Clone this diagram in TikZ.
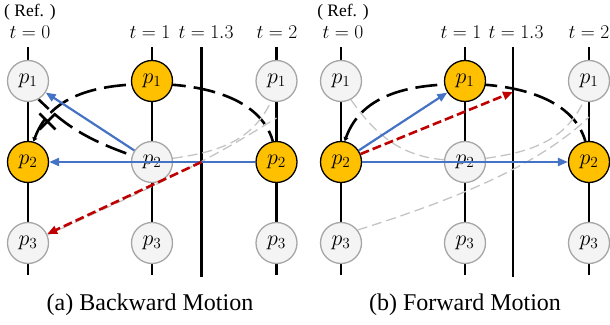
\RequirePackage{fix-cm}
\documentclass[tikz,border=0pt]{standalone}
\usepackage{fontspec}
\setmainfont{Liberation Serif}
\usepackage{tikz}
\usetikzlibrary{arrows.meta,backgrounds,calc}
\definecolor{KeyGold}{HTML}{FFC000}
\definecolor{PtFill}{HTML}{F4F4F4}
\definecolor{PtEdge}{HTML}{A6A6A6}
\definecolor{FlowBlue}{HTML}{4472C4}
\definecolor{InterpRed}{HTML}{C00000}
\definecolor{TrajGray}{HTML}{C4C4C4}

\begin{document}
\begin{tikzpicture}[x=1pt, y=1pt,
    pnt/.style={circle, draw=PtEdge, fill=PtFill, line width=1.3pt, minimum size=41pt, inner sep=0pt, font=\fontsize{22}{22}\selectfont},
    keypnt/.style={pnt, draw=black, fill=KeyGold},
    axis/.style={line width=2.6pt},
    motion/.style={line width=2.6pt, dash pattern=on 22pt off 8pt},
    traj/.style={TrajGray, line width=1.3pt, dash pattern=on 10pt off 5pt},
    flow/.style={FlowBlue, line width=2.2pt, -{Triangle[length=10pt,width=8pt]}},
    interp/.style={InterpRed, line width=2.6pt, dash pattern=on 9pt off 4pt, -{Triangle[length=10pt,width=8pt]}},
    tlabel/.style={font=\fontsize{19.5}{20}\selectfont},
    reflabel/.style={font=\fontsize{17.5}{18}\selectfont},
    caption/.style={font=\fontsize{24}{26}\selectfont}]
    \useasboundingbox (0,0) rectangle (610,324);

    % (a) Backward motion: points
    \node[pnt] (a01) at (28,243) {$p_1$};
    \node[keypnt] (a02) at (28,162) {$p_2$};
    \node[pnt] (a03) at (28,81) {$p_3$};
    \node[keypnt] (a11) at (152,243) {$p_1$};
    \node[pnt] (a12) at (152,162) {$p_2$};
    \node[pnt] (a13) at (152,81) {$p_3$};
    \node[pnt] (a21) at (276.5,243) {$p_1$};
    \node[keypnt] (a22) at (276.5,162) {$p_2$};
    \node[pnt] (a23) at (276.5,81) {$p_3$};

    % (b) Forward motion: points
    \node[pnt] (b01) at (341,243) {$p_1$};
    \node[keypnt] (b02) at (341,162) {$p_2$};
    \node[pnt] (b03) at (341,81) {$p_3$};
    \node[keypnt] (b11) at (465,243) {$p_1$};
    \node[pnt] (b12) at (465,162) {$p_2$};
    \node[pnt] (b13) at (465,81) {$p_3$};
    \node[pnt] (b21) at (589,243) {$p_1$};
    \node[keypnt] (b22) at (589,162) {$p_2$};
    \node[pnt] (b23) at (589,81) {$p_3$};

    % Time labels
    \node[reflabel] (refa) at (30,312) {( Ref. )};
    \node[tlabel] (ta0) at (30,292) {$t=0$};
    \node[tlabel] (ta1) at (150,292) {$t=1$};
    \node[tlabel] (tam) at (206,292) {$t=1.3$};
    \node[tlabel] (ta2) at (277,292) {$t=2$};
    \node[reflabel] (refb) at (343,312) {( Ref. )};
    \node[tlabel] (tb0) at (343,292) {$t=0$};
    \node[tlabel] (tb1) at (461,292) {$t=1$};
    \node[tlabel] (tbm) at (516,292) {$t=1.3$};
    \node[tlabel] (tb2) at (589,292) {$t=2$};

    % Captions
    \node[caption] (capa) at (150,19) {(a) Backward Motion};
    \node[caption] (capb) at (465,19) {(b) Forward Motion};

    \begin{scope}[on background layer]
        % Time axes
        \draw[axis] (28,277) -- (28,49);
        \draw[axis] (152,277) -- (152,49);
        \draw[axis] (201.5,277) -- (201.5,47);
        \draw[axis] (276.5,277) -- (276.5,49);
        \draw[axis] (341,277) -- (341,49);
        \draw[axis] (465,277) -- (465,49);
        \draw[axis] (513,277) -- (513,47);
        \draw[axis] (589,277) -- (589,49);

        % Motion of p2 (left)
        \draw[motion, {Triangle[length=4pt,width=5pt]}-] (a02.75) to[out=70,in=180] ($(a11.center)+(0,-3)$) to[out=0,in=106, looseness=0.9] (a22.100);
        \draw[motion, dash phase=8pt] (a01.-60) to[out=-45,in=160] (a12.162);
        \coordinate (xa) at (47.5,202.5);
        \draw[axis] ($(xa)+(-8,8)$) -- ($(xa)+(8,-8)$) ($(xa)+(-8,-8)$) -- ($(xa)+(8,8)$);

        % Other trajectories (left)
        \draw[traj] (a12.10) to[out=8,in=-115] (a21.-105);
        \coordinate (qa) at (276.5,206);
        \draw[traj] (a03.22) to[out=25,in=-148] (qa);

        % Motion of p2 (right)
        \draw[motion, {Triangle[length=4pt,width=5pt]}-] (b02.80) to[out=70,in=180] ($(b11.center)+(0,-3)$) to[out=0,in=106, looseness=0.9] (b22.100);

        % Other trajectories (right)
        \draw[traj] (b01.-62) to[out=-55,in=175] (b12.174);
        \draw[traj] (b12.10) to[out=8,in=-115] (b21.-105);
        \coordinate (qb) at (589,207);
        \draw[traj] (b03.38) .. controls (460,126) and (540,160) .. (qb);
    \end{scope}

    % Backward warping
    \draw[flow] (a12) -- (a01);
    \draw[flow] (a22) -- (a02);
    \coordinate (ma) at (201.5,162);
    \draw[interp] (ma) -- (a03);

    % Forward warping
    \draw[flow] (b02) -- (b11);
    \draw[flow] (b02) -- (b22);
    \coordinate (mb) at (513,232);
    \draw[interp] (b02) -- (mb);
\end{tikzpicture}
\end{document}
